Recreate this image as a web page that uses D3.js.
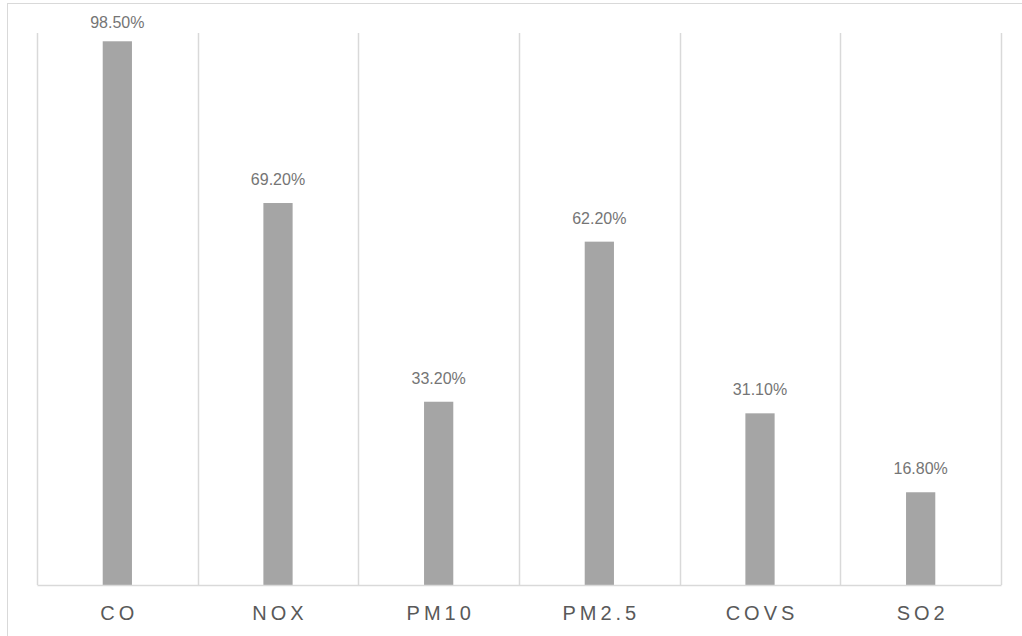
<!DOCTYPE html>
<html>
<head>
<meta charset="utf-8">
<script src="https://cdn.jsdelivr.net/npm/d3@7"></script>
<style>
  html, body { margin: 0; padding: 0; background: #ffffff; }
  svg { display: block; }
</style>
</head>
<body>
<svg id="chart" width="1022" height="636"></svg>
<script>
// Pollutant shares (%)
const categories = ["CO", "NOX", "PM10", "PM2.5", "COVS", "SO2"];
const values = [98.5, 69.2, 33.2, 62.2, 31.1, 16.8];
const valueLabels = ["98.50%", "69.20%", "33.20%", "62.20%", "31.10%", "16.80%"];

const svg = d3.select("#chart");
const plot = { left: 37, right: 1001, top: 33, bottom: 585 };

// chart frame
svg.append("rect")
  .attr("x", 7.5).attr("y", 3.5)
  .attr("width", 1040).attr("height", 660)
  .attr("fill", "none").attr("stroke", "#d9d9d9").attr("stroke-width", 1);

const x = d3.scaleBand().domain(categories).range([plot.left, plot.right]).padding(0);
const y = d3.scaleLinear().domain([0, 100]).range([plot.bottom, plot.top]);

// vertical separators between categories
const bounds = categories.map(c => x(c)).concat([x(categories[categories.length - 1]) + x.bandwidth()]);
svg.append("g").selectAll("line").data(bounds).join("line")
  .attr("x1", d => Math.round(d) + 0.5).attr("x2", d => Math.round(d) + 0.5)
  .attr("y1", plot.top).attr("y2", plot.bottom)
  .attr("stroke", "#d9d9d9").attr("stroke-width", 1.5);

// bars
const barW = x.bandwidth() * 0.182;
svg.append("g").selectAll("rect").data(values).join("rect")
  .attr("x", (d, i) => x(categories[i]) + x.bandwidth() / 2 - barW / 2)
  .attr("y", d => y(d))
  .attr("width", barW)
  .attr("height", d => y(0) - y(d))
  .attr("fill", "#a5a5a5");

// value labels above the bars
svg.append("g").selectAll("text").data(values).join("text")
  .attr("x", (d, i) => x(categories[i]) + x.bandwidth() / 2)
  .attr("y", d => Math.max(y(d) - 18, 28))
  .attr("text-anchor", "middle")
  .attr("font-family", "'Liberation Sans', Arial, sans-serif")
  .attr("font-size", 16)
  .attr("fill", "#757575")
  .text((d, i) => valueLabels[i]);

// category axis
const xAxis = svg.append("g")
  .attr("transform", `translate(0,${plot.bottom})`)
  .call(d3.axisBottom(x).tickSize(0).tickPadding(0));
xAxis.select(".domain")
  .attr("stroke", "#d9d9d9").attr("stroke-width", 1.5);
xAxis.selectAll(".tick text")
  .attr("y", 35)
  .attr("dy", 0)
  .attr("dx", 2)
  .attr("font-family", "'Liberation Sans', Arial, sans-serif")
  .attr("font-size", 20)
  .attr("letter-spacing", "4px")
  .attr("fill", "#595959");
</script>
</body>
</html>
